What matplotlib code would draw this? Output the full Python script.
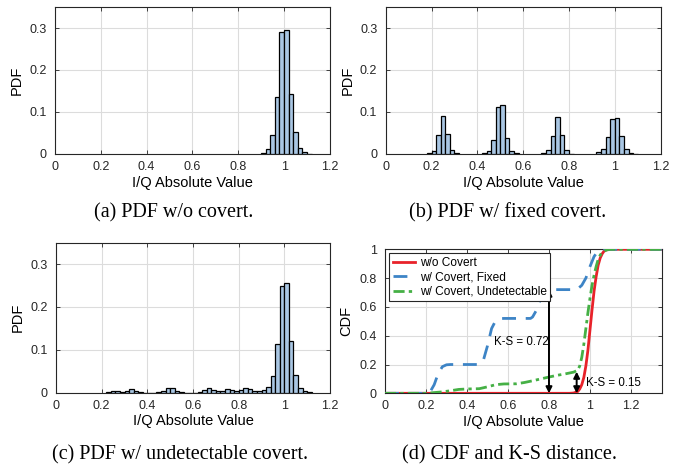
import numpy as np
import matplotlib
matplotlib.use("Agg")
import matplotlib.pyplot as plt

# ---- data ----
# histogram bins: left edge of each bin, width 0.02
bins_a = [0.90, 0.92, 0.94, 0.96, 0.98, 1.00, 1.02, 1.04, 1.06, 1.08, 1.10]
pdf_a = [0.003, 0.013, 0.046, 0.135, 0.290, 0.296, 0.144, 0.052, 0.014, 0.004, 0.001]

bins_b = [0.18, 0.20, 0.22, 0.24, 0.26, 0.28, 0.30,
          0.42, 0.44, 0.46, 0.48, 0.50, 0.52, 0.54, 0.56,
          0.68, 0.70, 0.72, 0.74, 0.76, 0.78, 0.80,
          0.92, 0.94, 0.96, 0.98, 1.00, 1.02, 1.04, 1.06, 1.08]
pdf_b = [0.002, 0.008, 0.044, 0.090, 0.047, 0.010, 0.002,
         0.002, 0.006, 0.034, 0.111, 0.117, 0.037, 0.008, 0.002,
         0.002, 0.010, 0.043, 0.087, 0.046, 0.009, 0.001,
         0.004, 0.013, 0.041, 0.084, 0.086, 0.042, 0.012, 0.003, 0.001]

bins_c = [0.22, 0.24, 0.26, 0.28, 0.30, 0.32, 0.34, 0.36, 0.38,
          0.40, 0.42, 0.44, 0.46, 0.48, 0.50, 0.52, 0.54, 0.56, 0.58,
          0.60, 0.62, 0.64, 0.66, 0.68, 0.70, 0.72, 0.74, 0.76, 0.78,
          0.80, 0.82, 0.84, 0.86, 0.88, 0.90, 0.92, 0.94, 0.96, 0.98,
          1.00, 1.02, 1.04, 1.06, 1.08, 1.10]
pdf_c = [0.002, 0.005, 0.004, 0.001, 0.003, 0.008, 0.005, 0.001, 0.0,
         0.0, 0.0, 0.001, 0.004, 0.011, 0.011, 0.005, 0.001, 0.0, 0.0,
         0.0, 0.002, 0.006, 0.011, 0.006, 0.004, 0.005, 0.009, 0.006, 0.004,
         0.006, 0.010, 0.008, 0.004, 0.004, 0.007, 0.014, 0.040, 0.113, 0.249,
         0.255, 0.121, 0.041, 0.012, 0.003, 0.001]

# CDF curves (panel d)
cdf_none_x = [0, 0.90, 0.92, 0.94, 0.95, 0.96, 0.97, 0.98, 0.99, 1.00, 1.01,
              1.02, 1.03, 1.04, 1.05, 1.06, 1.07, 1.09, 1.35]
cdf_none_y = [0, 0, 0.002, 0.012, 0.03, 0.06, 0.11, 0.19, 0.30, 0.44, 0.58,
              0.71, 0.81, 0.89, 0.94, 0.97, 0.99, 1.0, 1.0]

cdf_fixed_x = [0, 0.20, 0.22, 0.24, 0.26, 0.28, 0.30, 0.32, 0.46, 0.48, 0.50,
               0.52, 0.54, 0.56, 0.58, 0.71, 0.72, 0.74, 0.76, 0.78, 0.80,
               0.82, 0.93, 0.94, 0.96, 0.98, 1.00, 1.02, 1.04, 1.06, 1.35]
cdf_fixed_y = [0, 0, 0.01, 0.06, 0.14, 0.185, 0.198, 0.20, 0.20, 0.23, 0.33,
               0.45, 0.505, 0.518, 0.52, 0.52, 0.53, 0.58, 0.66, 0.705, 0.717,
               0.72, 0.72, 0.725, 0.75, 0.80, 0.88, 0.95, 0.99, 1.0, 1.0]

cdf_und_x = [0, 0.20, 0.24, 0.28, 0.32, 0.36, 0.40, 0.46, 0.50, 0.54, 0.58,
             0.64, 0.68, 0.72, 0.76, 0.80, 0.84, 0.88, 0.92, 0.94, 0.95,
             0.96, 0.97, 0.98, 0.99, 1.00, 1.01, 1.02, 1.03, 1.04, 1.05,
             1.06, 1.08, 1.10, 1.35]
cdf_und_y = [0, 0, 0.005, 0.01, 0.018, 0.027, 0.03, 0.032, 0.045, 0.06, 0.065,
             0.066, 0.075, 0.087, 0.10, 0.113, 0.125, 0.135, 0.147, 0.16, 0.19,
             0.25, 0.34, 0.45, 0.56, 0.66, 0.75, 0.82, 0.88, 0.93, 0.96,
             0.98, 0.995, 1.0, 1.0]

ks_fixed = (0.80, 0.72)   # (x position, distance)
ks_und = (0.935, 0.15)

captions = ["(a) PDF w/o covert.", "(b) PDF w/ fixed covert.",
            "(c) PDF w/ undetectable covert.", "(d) CDF and K-S distance."]

# ---- styling ----
plt.rcParams['font.family'] = ['Liberation Sans', 'DejaVu Sans']
bar_face = '#a9c6e3'
grid_col = '#dcdcdc'
frame_col = '#262626'


def matlab_axes(ax, tick_size=9, label_size=10.5):
    ax.grid(True, color=grid_col, linewidth=0.8)
    ax.set_axisbelow(True)
    for s in ax.spines.values():
        s.set_color(frame_col)
        s.set_linewidth(0.8)
    ax.tick_params(direction='in', length=3, width=0.6, top=True, right=True,
                   labelsize=tick_size, colors=frame_col)
    ax.tick_params(axis='x', pad=5)
    ax.tick_params(axis='y', pad=6)
    ax.xaxis.label.set_size(label_size)
    ax.yaxis.label.set_size(label_size)


def fmt(v, pos):
    return '%g' % round(v, 2)


fig = plt.figure(figsize=(6.89, 4.68), dpi=100)

axes_pos = [[0.0798, 0.671, 0.399, 0.314],
            [0.5598, 0.671, 0.399, 0.314],
            [0.0813, 0.161, 0.3977, 0.3205]]
hist_data = [(bins_a, pdf_a), (bins_b, pdf_b), (bins_c, pdf_c)]

for pos, (edges, vals) in zip(axes_pos, hist_data):
    ax = fig.add_axes(pos)
    ax.bar(edges, vals, width=0.02, align='edge', color=bar_face,
           edgecolor='black', linewidth=0.9, zorder=3)
    ax.set_xlim(0, 1.2)
    ax.set_ylim(0, 0.35)
    ax.set_xticks([0, 0.2, 0.4, 0.6, 0.8, 1.0, 1.2])
    ax.set_yticks([0, 0.1, 0.2, 0.3])
    ax.xaxis.set_major_formatter(plt.FuncFormatter(fmt))
    ax.yaxis.set_major_formatter(plt.FuncFormatter(fmt))
    ax.set_xlabel('I/Q Absolute Value', labelpad=2)
    ax.set_ylabel('PDF', labelpad=4)
    matlab_axes(ax)

# panel d
ax = fig.add_axes([0.5588, 0.1596, 0.4016, 0.3077])
ax.plot(cdf_none_x, cdf_none_y, color='#e8222a', linewidth=2.0,
        label='w/o Covert', zorder=3)
ax.plot(cdf_fixed_x, cdf_fixed_y, color='#3d84c6', linewidth=2.0,
        dashes=(5, 3.5), label='w/ Covert, Fixed', zorder=3)
ax.plot(cdf_und_x, cdf_und_y, color='#45b045', linewidth=2.0,
        dashes=(4, 1.5, 1.2, 1.5), label='w/ Covert, Undetectable', zorder=4)
ax.set_xlim(0, 1.35)
ax.set_ylim(0, 1)
ax.set_xticks([0, 0.2, 0.4, 0.6, 0.8, 1.0, 1.2])
ax.set_yticks([0, 0.2, 0.4, 0.6, 0.8, 1.0])
ax.xaxis.set_major_formatter(plt.FuncFormatter(fmt))
ax.yaxis.set_major_formatter(plt.FuncFormatter(fmt))
ax.set_xlabel('I/Q Absolute Value', labelpad=2)
ax.set_ylabel('CDF', labelpad=4)
matlab_axes(ax, tick_size=9, label_size=10.5)

for kx, kv in (ks_fixed, ks_und):
    ax.annotate('', xy=(kx, kv), xytext=(kx, 0),
                arrowprops=dict(arrowstyle='<|-|>', color='black', lw=1.4,
                                mutation_scale=9, shrinkA=0, shrinkB=0),
                zorder=5)
ax.text(0.53, 0.355, 'K-S = %.2f' % ks_fixed[1], fontsize=8.3,
        ha='left', va='center')
ax.text(0.982, 0.075, 'K-S = %.2f' % ks_und[1], fontsize=8.3,
        ha='left', va='center')

leg = ax.legend(loc='upper left', fontsize=8.6, frameon=True, fancybox=False,
                edgecolor=frame_col, framealpha=1, handlelength=1.9,
                borderpad=0.3, labelspacing=0.2, handletextpad=0.35,
                borderaxespad=0.35)
leg.get_frame().set_linewidth(0.8)

# captions
cap_pos = [(174, 213), (508, 213), (180, 455), (510, 455)]
for (cx, cy), txt in zip(cap_pos, captions):
    fig.text(cx / 689, 1 - cy / 468, txt, ha='center', va='center',
             fontsize=14.5, family=['Liberation Serif', 'DejaVu Serif'])

fig.savefig('out.png', dpi=100)
